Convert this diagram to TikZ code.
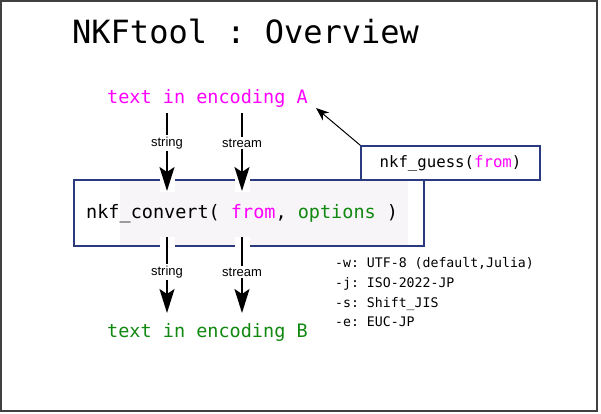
\documentclass[tikz,border=0pt]{standalone}
\usepackage{fontspec}
\setmonofont{DejaVu Sans Mono}
\setsansfont{Liberation Sans}
\usetikzlibrary{arrows.meta}
\usetikzlibrary{positioning}

\definecolor{encA}{HTML}{FF00FF}
\definecolor{encB}{HTML}{118811}
\definecolor{boxline}{HTML}{2B3A7E}
\definecolor{codebg}{HTML}{F7F5F7}

\begin{document}
\begin{tikzpicture}[x=1pt,y=-1pt,
  code/.style={font=\ttfamily\fontsize{18.5}{20}\selectfont, inner sep=0pt, anchor=base west},
  kind/.style={font=\sffamily\fontsize{13}{15}\selectfont, fill=white, inner sep=2pt},
  flow/.style={line width=2pt, -{Stealth[length=24pt,width=15pt,inset=5pt]}},
  opt/.style={font=\ttfamily\fontsize{13.2}{15}\selectfont, inner sep=0pt, anchor=base west},
  frame/.style={draw=boxline, line width=1.5pt}]
\useasboundingbox (0,0) rectangle (601,413);
\draw [line width=2pt, draw=black!75] (1,1) rectangle (597,411);
% title
\node [anchor=base west, inner sep=0pt, font=\ttfamily\fontsize{32}{34}\selectfont] (title) at (72,43.5) {NKFtool : Overview};
% the convert box
\fill [codebg] (120,181) rectangle (408,245);
\node [frame, minimum width=350pt, minimum height=66pt] (convbox) at (249,213) {};
\fill [white] (160,179) rectangle (175,192);
\fill [white] (235,179) rectangle (250,192);
\fill [white] (160,237) rectangle (175,247);
\fill [white] (235,237) rectangle (250,247);
\node [code] (conv) at (86,218) {nkf\_convert( \textcolor{encA}{from}, \textcolor{encB}{options} )};
% the guess box
\node [frame, fill=white, minimum width=179pt, minimum height=34pt, inner sep=0pt,
  font=\ttfamily\fontsize{15.7}{17}\selectfont] (guess) at (450.5,163) {nkf\_guess(\textcolor{encA}{from})};
% texts
\node [code, text=encA] (srcA) at (107,103) {text in encoding A};
\node [code, text=encB] (dstB) at (107,337) {text in encoding B};
\node [opt] (optw) at (335,267) {-w: UTF-8 (default,Julia)};
\node [opt] (optj) at (335,287) {-j: ISO-2022-JP};
\node [opt] (opts) at (335,307) {-s: Shift\_JIS};
\node [opt] (opte) at (335,326.5) {-e: EUC-JP};
% arrows
\coordinate (inS) at (167,113);
\coordinate (inT) at (242,113);
\coordinate (tipS) at (167,191);
\coordinate (tipT) at (242,191);
\coordinate (outS) at (167,237);
\coordinate (outT) at (242,237);
\coordinate (endS) at (167,313);
\coordinate (endT) at (242,313);
\node [kind] (kindS1) at (167,143) {string};
\node [kind] (kindT1) at (242,143) {stream};
\node [kind] (kindS2) at (167,272) {string};
\node [kind] (kindT2) at (242,272) {stream};
\draw [line width=2pt] (inS) -- (kindS1);
\draw [flow] (kindS1) -- (tipS);
\draw [line width=2pt] (inT) -- (kindT1);
\draw [flow] (kindT1) -- (tipT);
\draw [line width=2pt] (outS) -- (kindS2);
\draw [flow] (kindS2) -- (endS);
\draw [line width=2pt] (outT) -- (kindT2);
\draw [flow] (kindT2) -- (endT);
\coordinate (guessTip) at (316,108);
\draw [line width=1pt, -{Stealth[length=13pt,width=10pt,inset=4pt]}] (guess.north west) -- (guessTip);
\end{tikzpicture}
\end{document}
